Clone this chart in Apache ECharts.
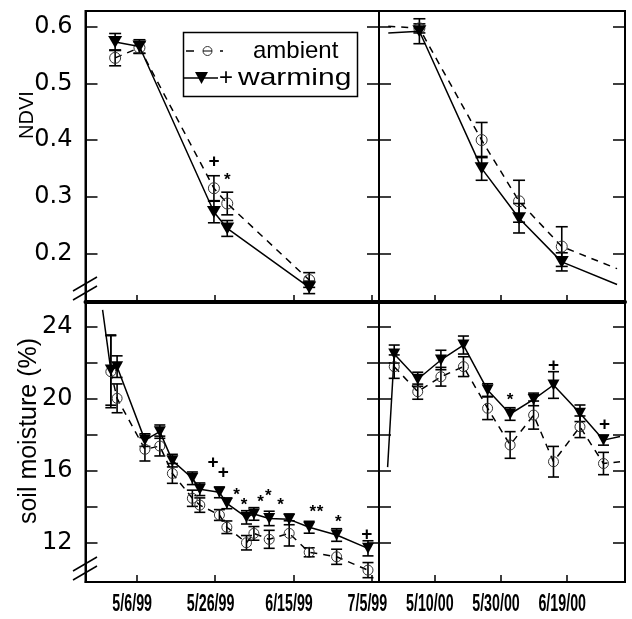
<!DOCTYPE html>
<html><head><meta charset="utf-8">
<script src="https://cdn.jsdelivr.net/npm/echarts@6/dist/echarts.min.js"></script>
<style>html,body{margin:0;padding:0;background:#fff}#c{width:632px;height:619px}</style>
</head><body><div id="c"></div>
<script>
// ---- data (x = day of year; 1999 for left panels, 2000 for right panels) ----
// NDVI 1999
const ndvi99Days    = [120.5, 126.7, 145.7, 149.1, 170.0];
const ndvi99Amb     = [0.545, 0.563, 0.315, 0.288, 0.153];
const ndvi99AmbErr  = [0.014, 0.010, 0.022, 0.020, 0.013];
const ndvi99Warm    = [0.573, 0.565, 0.273, 0.244, 0.140];
const ndvi99WarmErr = [0.015, 0.012, 0.019, 0.014, 0.011];
const ndvi99Marks   = [[145.7, 0.362, '+'], [149.1, 0.336, '*']];
// NDVI 2000 (first/last entries: unplotted line ends)
const ndvi00Days    = [117.1, 126.5, 145.3, 156.6, 169.5, 186.2];
const ndvi00Amb     = [0.601, 0.597, 0.400, 0.292, 0.212, 0.173];
const ndvi00AmbErr  = [null, 0.008, 0.031, 0.037, 0.035, null];
const ndvi00Warm    = [0.589, 0.592, 0.350, 0.262, 0.185, 0.145];
const ndvi00WarmErr = [null, 0.022, 0.021, 0.026, 0.016, null];
const ndvi00Marks   = [];
// soil moisture 1999
const soil99Days    = [117.3, 119.4, 121.0, 128.1, 131.9, 135.1, 140.2, 142.1, 147.1, 149.0, 154.0, 155.9, 159.8, 164.9, 170.0, 177.0, 185.0];
const soil99Amb     = [null, 21.50, 20.02, 17.19, 17.37, 15.85, 14.47, 14.09, 13.54, 12.86, 12.00, 12.52, 12.19, 12.52, 11.47, 11.22, 10.48];
const soil99AmbErr  = [null, 2.00, 0.80, 0.65, 0.55, 0.55, 0.45, 0.40, 0.30, 0.35, 0.40, 0.38, 0.50, 0.70, 0.25, 0.42, 0.42];
const soil99Warm    = [24.93, 21.59, 21.78, 17.70, 18.17, 16.56, 15.58, 14.97, 14.80, 14.19, 13.41, 13.60, 13.35, 13.30, 12.86, 12.43, 11.69];
const soil99WarmErr = [null, 1.95, 0.60, 0.35, 0.37, 0.35, 0.35, 0.35, 0.30, 0.30, 0.37, 0.35, 0.40, 0.30, 0.33, 0.35, 0.42];
const soil99Marks   = [[145.5,16.44,'+'],[148.1,15.89,'+'],[151.5,14.83,'*'],[153.4,14.28,'*'],[157.6,14.47,'*'],[159.6,14.8,'*'],[162.7,14.28,'*'],[170.9,13.91,'*'],[172.8,13.91,'*'],[177.4,13.36,'*'],[184.7,12.43,'+']];
// soil moisture 2000
const soil00Days    = [116.9, 118.9, 126.0, 133.0, 139.8, 147.1, 153.9, 161.0, 167.0, 175.0, 182.1, 187.1];
const soil00Amb     = [null, 21.78, 20.39, 21.22, 21.78, 19.47, 17.43, 19.09, 16.50, 18.44, 16.40, 16.50];
const soil00AmbErr  = [null, 0.65, 0.42, 0.52, 0.55, 0.63, 0.74, 0.78, 0.85, 0.60, 0.62, null];
const soil00Warm    = [16.2, 22.48, 21.08, 22.15, 22.98, 20.48, 19.15, 19.96, 20.76, 19.19, 17.70, 17.90];
const soil00WarmErr = [null, 0.50, 0.39, 0.54, 0.50, 0.35, 0.35, 0.35, 0.74, 0.46, 0.28, null];
const soil00Marks   = [[153.9,20.15,'*'],[167.0,21.82,'+'],[182.4,18.54,'+']];

// ---- axes ----
const ticks99 = [126, 146, 166, 186];
const labels99 = ['5/6/99', '5/26/99', '6/15/99', '7/5/99'];
const ticks00 = [131, 151, 171];
const labels00 = ['5/10/00', '5/30/00', '6/19/00'];
const range99 = [112.94, 187.81];
const range00 = [114.3, 188.6];
const ndviTicks = [0.2, 0.3, 0.4, 0.5, 0.6];
const ndviRange = [0.1142, 0.6277];
const soilTicks = [12, 14, 16, 18, 20, 22, 24];
const soilLabels = [12, 16, 20, 24];
const soilRange = [9.82, 25.37];

const FONT = "'Liberation Sans', Arial, Helvetica, sans-serif";
const WIDE = "'DejaVu Sans', 'Liberation Sans', Arial, sans-serif";

const Lx = 85.5, Mx = 379, Rx = 625, Ty = 11, Dy = 302, By = 582;
const grids = [
  {left: Lx, top: Ty, width: Mx - Lx, height: Dy - Ty},
  {left: Mx, top: Ty, width: Rx - Mx, height: Dy - Ty},
  {left: Lx, top: Dy, width: Mx - Lx, height: By - Dy},
  {left: Mx, top: Dy, width: Rx - Mx, height: By - Dy}
].map(g => Object.assign(g, {show: true, borderColor: '#000', borderWidth: 2, backgroundColor: 'transparent', containLabel: false, outerBoundsMode: 'none'}));

function xAx(gi, range, ticks) {
  return {
    type: 'value', gridIndex: gi, min: range[0], max: range[1],
    axisLine: {show: true, onZero: false, lineStyle: {color: '#000', width: gi < 2 ? 4 : 2}},
    axisTick: {show: true, inside: true, length: 7, customValues: ticks, lineStyle: {color: '#000', width: 1.5}},
    axisLabel: {show: false},
    splitLine: {show: false}
  };
}
function yAx(gi, pos, range, ticks, labels, showLabels, fmt) {
  return {
    type: 'value', gridIndex: gi, position: pos, min: range[0], max: range[1],
    axisLine: {show: true, onZero: false, lineStyle: {color: '#000', width: 2}},
    axisTick: {show: true, inside: true, length: 12, customValues: ticks, lineStyle: {color: '#000', width: 1.5}},
    axisLabel: {show: showLabels, customValues: labels, formatter: fmt, margin: 13, color: '#000', fontFamily: WIDE, fontSize: 24},
    splitLine: {show: false}
  };
}
const fmtN = v => v.toFixed(1);
const fmtS = v => String(Math.round(v));

const xAxes = [
  xAx(0, range99, ticks99), xAx(1, range00, ticks00),
  xAx(2, range99, ticks99), xAx(3, range00, ticks00)
];
const yAxes = [
  yAx(0, 'left', ndviRange, ndviTicks, ndviTicks, true, fmtN),
  yAx(1, 'left', ndviRange, ndviTicks, ndviTicks, false, fmtN),
  yAx(2, 'left', soilRange, soilTicks, soilLabels, true, fmtS),
  yAx(3, 'left', soilRange, soilTicks, soilLabels, false, fmtS),
  yAx(0, 'right', ndviRange, ndviTicks, ndviTicks, false, fmtN),
  yAx(1, 'right', ndviRange, ndviTicks, ndviTicks, false, fmtN),
  yAx(2, 'right', soilRange, soilTicks, soilLabels, false, fmtS),
  yAx(3, 'right', soilRange, soilTicks, soilLabels, false, fmtS)
];

function errSeries(idx, data, capW) {
  return {
    type: 'custom', xAxisIndex: idx, yAxisIndex: idx, z: 1, data: data, silent: true,
    renderItem: (params, api) => {
      const x = api.value(0), y = api.value(1), e = api.value(2);
      const a = api.coord([x, y + e]), b = api.coord([x, y - e]);
      const h = capW / 2, st = {stroke: '#000', lineWidth: 1.6};
      return {type: 'group', children: [
        {type: 'line', shape: {x1: a[0], y1: a[1], x2: b[0], y2: b[1]}, style: st},
        {type: 'line', shape: {x1: a[0] - h, y1: a[1], x2: a[0] + h, y2: a[1]}, style: st},
        {type: 'line', shape: {x1: b[0] - h, y1: b[1], x2: b[0] + h, y2: b[1]}, style: st}
      ]};
    }
  };
}

function panel(idx, days, amb, ambErr, warm, warmErr, marks, big) {
  const ambData = [], warmData = [], ambE = [], warmE = [];
  days.forEach((d, i) => {
    if (amb[i] != null) ambData.push({value: [d, amb[i]], symbol: ambErr[i] == null ? 'none' : 'circle'});
    if (warm[i] != null) warmData.push({value: [d, warm[i]], symbol: warmErr[i] == null ? 'none' : 'triangle'});
    if (ambErr[i] != null) ambE.push([d, amb[i], ambErr[i]]);
    if (warmErr[i] != null) warmE.push([d, warm[i], warmErr[i]]);
  });
  const out = [
    errSeries(idx, ambE, big ? 12 : 11),
    errSeries(idx, warmE, big ? 12 : 11),
    {
      type: 'line', name: 'ambient', xAxisIndex: idx, yAxisIndex: idx, data: ambData, z: 3,
      symbol: 'circle', symbolSize: big ? 11 : 10, showAllSymbol: true,
      itemStyle: {color: 'rgba(255,255,255,0)', borderColor: '#333', borderWidth: 1},
      lineStyle: {color: '#000', width: 1.5, type: [7, 6]}
    },
    {
      type: 'line', name: '+ warming', xAxisIndex: idx, yAxisIndex: idx, data: warmData, z: 4,
      symbol: 'triangle', symbolRotate: 180, symbolSize: big ? [14, 12] : [12, 11], showAllSymbol: true,
      itemStyle: {color: '#000', borderWidth: 0},
      lineStyle: {color: '#000', width: 1.5}
    }
  ];
  if (marks.length) out.push({
    type: 'custom', xAxisIndex: idx, yAxisIndex: idx, z: 5, silent: true,
    data: marks.map(m => [m[0], m[1]]),
    renderItem: (params, api) => {
      const t = marks[params.dataIndex][2];
      const p = api.coord([api.value(0), api.value(1)]);
      return {type: 'text', x: p[0], y: p[1] + (t === '*' ? 4 : 0),
        style: {text: t, fontFamily: FONT, fontWeight: 'bold', fontSize: t === '+' ? 19 : 17,
          align: 'center', verticalAlign: 'middle', fill: '#000'}};
    }
  });
  return out;
}

const series = [].concat(
  panel(0, ndvi99Days, ndvi99Amb, ndvi99AmbErr, ndvi99Warm, ndvi99WarmErr, ndvi99Marks, true),
  panel(1, ndvi00Days, ndvi00Amb, ndvi00AmbErr, ndvi00Warm, ndvi00WarmErr, ndvi00Marks, true),
  panel(2, soil99Days, soil99Amb, soil99AmbErr, soil99Warm, soil99WarmErr, soil99Marks, false),
  panel(3, soil00Days, soil00Amb, soil00AmbErr, soil00Warm, soil00WarmErr, soil00Marks, false)
);

const blk = {stroke: '#000', lineWidth: 1.5};
const graphic = [
  {type: 'text', x: 27, y: 115, rotation: Math.PI / 2,
    style: {text: 'NDVI', fontFamily: FONT, fontSize: 20, fill: '#000', align: 'center', verticalAlign: 'middle'}},
  {type: 'text', x: 29, y: 431, rotation: Math.PI / 2,
    style: {text: 'soil moisture (%)', fontFamily: FONT, fontSize: 25, fill: '#000', align: 'center', verticalAlign: 'middle'}},
  // axis break marks
  {type: 'line', shape: {x1: 73, y1: 291, x2: 97, y2: 277}, style: blk},
  {type: 'line', shape: {x1: 73, y1: 300, x2: 97, y2: 286}, style: blk},
  {type: 'line', shape: {x1: 73, y1: 571, x2: 97, y2: 557}, style: blk},
  {type: 'line', shape: {x1: 73, y1: 580, x2: 97, y2: 566}, style: blk},
  // legend
  {type: 'group', z: 100, children: [
    {type: 'rect', shape: {x: 183.5, y: 32.5, width: 174, height: 64}, style: {fill: '#fff', stroke: '#000', lineWidth: 1.5}},
    {type: 'line', shape: {x1: 186, y1: 51, x2: 194, y2: 51}, style: blk},
    {type: 'circle', shape: {cx: 207.5, cy: 51, r: 4.5}, style: {fill: 'none', stroke: '#333', lineWidth: 1}},
    {type: 'line', shape: {x1: 203, y1: 51, x2: 212, y2: 51}, style: {stroke: '#000', lineWidth: 1}},
    {type: 'line', shape: {x1: 220, y1: 51, x2: 223, y2: 51}, style: blk},
    {type: 'text', x: 253, y: 51, style: {text: 'ambient', fontFamily: FONT, fontSize: 24, fill: '#000', verticalAlign: 'middle'}},
    {type: 'line', shape: {x1: 184, y1: 78, x2: 218, y2: 78}, style: blk},
    {type: 'polygon', shape: {points: [[195, 72], [208, 72], [201.5, 84]]}, style: {fill: '#000'}},
    {type: 'text', x: 219, y: 78, style: {text: '+', fontFamily: FONT, fontSize: 24, fill: '#000', verticalAlign: 'middle'}},
    {type: 'text', x: 238, y: 78, scaleX: 1.25, style: {text: 'warming', fontFamily: FONT, fontSize: 24, fill: '#000', verticalAlign: 'middle'}}
  ]}
];

const chart = echarts.init(document.getElementById('c'));
chart.setOption({
  animation: false,
  backgroundColor: '#fff',
  grid: grids,
  xAxis: xAxes,
  yAxis: yAxes,
  series: series,
  graphic: graphic
});

// date tick labels: condensed bold text placed at the axis ticks via the axis scale
const dateLabels = [];
[[2, ticks99, labels99], [3, ticks00, labels00]].forEach(([gi, ticks, labels]) => {
  ticks.forEach((t, i) => {
    const p = chart.convertToPixel({xAxisIndex: gi, yAxisIndex: gi}, [t, soilRange[0]]);
    dateLabels.push({type: 'text', x: p[0] - 4.5, y: p[1] + 23, scaleX: 0.62,
      style: {text: labels[i], fontFamily: FONT, fontWeight: 'bold', fontSize: 23, fill: '#000', align: 'center', verticalAlign: 'middle'}});
  });
});
chart.setOption({graphic: graphic.concat(dateLabels)});
</script></body></html>
